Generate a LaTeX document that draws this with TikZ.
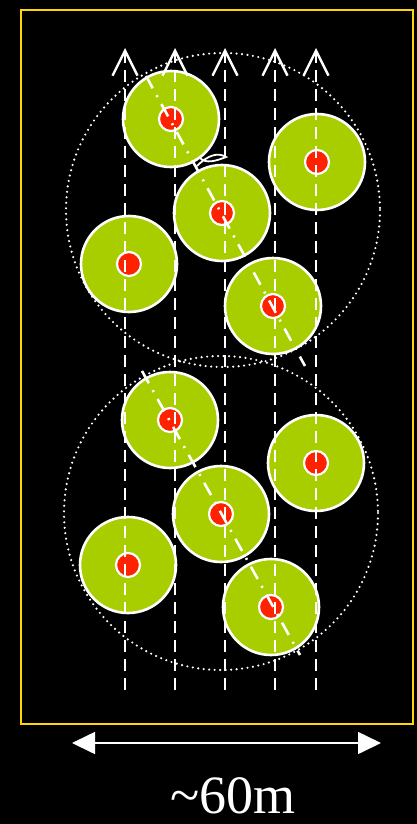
\documentclass[tikz,border=0pt]{standalone}
\usepackage{fontspec}
\setmainfont{Liberation Serif}
\usepackage{tikz}
\usetikzlibrary{arrows.meta}
\definecolor{pitch_green}{RGB}{168,206,0}
\definecolor{ball_red}{RGB}{255,34,0}
\definecolor{frame_yellow}{RGB}{255,214,0}
\tikzset{
  field_node/.style = {circle, draw=white, fill=pitch_green, line width=2.6pt,
    minimum size=96pt, inner sep=0pt},% zone de jeu
  ball_node/.style = {circle, draw=white, fill=ball_red, line width=2.2pt,
    minimum size=24pt, inner sep=0pt},% balle
  lane/.style = {draw=white, line width=2.6pt, dash pattern=on 12pt off 7pt,
    -{Straight Barb[length=25pt,width=25pt,line width=2.4pt]}},% couloir
  track/.style = {draw=white, line width=2.6pt,
    dash pattern=on 14pt off 8pt on 2pt off 8pt},% trajectoire
  zone/.style = {draw=white, line width=2.4pt, line cap=round,
    dash pattern=on 0pt off 5.5pt},% zone pointillee
  label_text/.style = {text=white, inner sep=0pt,
    font=\fontsize{54}{58}\selectfont}
}
\begin{document}
\begin{tikzpicture}[x=1pt, y=-1pt]
    \fill[black] (0,0) rectangle (417,824);
    \useasboundingbox (0,0) rectangle (417,824);
    \draw[frame_yellow, line width=2.4pt] (21,10) rectangle (413,724);
    % zones
    \node[circle, minimum size=314pt, inner sep=0pt] (zone1) at (223,210) {};
    \node[circle, minimum size=314pt, inner sep=0pt] (zone2) at (221,513) {};
    \draw[zone] (zone1.center) circle (157);
    \draw[zone] (zone2.center) circle (157);
    % terrains
    \foreach \name/\x/\y in {p1/171/119, p2/317/162, p3/222/213, p4/129/264,
      p5/273/306, p6/170/420, p7/316/463, p8/221/514, p9/128/565, p10/271/607}{
      \node[field_node] (\name) at (\x,\y) {};
      \node[ball_node] (\name b) at (\x,\y) {};
    }
    % couloirs
    \foreach \x in {125,175,225,275,316}{
      \coordinate (low\x) at (\x,690);
      \coordinate (high\x) at (\x,48);
      \draw[lane] (low\x) -- (high\x);
    }
    % trajectoires
    \coordinate (t1a) at (146,76);
    \coordinate (t1b) at (305,366);
    \coordinate (t2a) at (142,371);
    \coordinate (t2b) at (300,655);
    \draw[track] (t1a) -- (t1b);
    \draw[track] (t2a) -- (t2b);
    \draw[white, line width=1.8pt] (197,166) .. controls (208,155) and (218,152) .. (226,157)
      .. controls (216,161) and (206,164) .. (200,158);
    % distance
    \coordinate (ends_l) at (72,743);
    \coordinate (ends_r) at (381,743);
    \draw[white, line width=1.6pt, {Triangle[length=23pt,width=22pt]}-{Triangle[length=23pt,width=22pt]}]
      (ends_l) -- (ends_r);
    \node[label_text, anchor=base] (dist) at (233,813) {\textasciitilde60m};
\end{tikzpicture}
\end{document}
